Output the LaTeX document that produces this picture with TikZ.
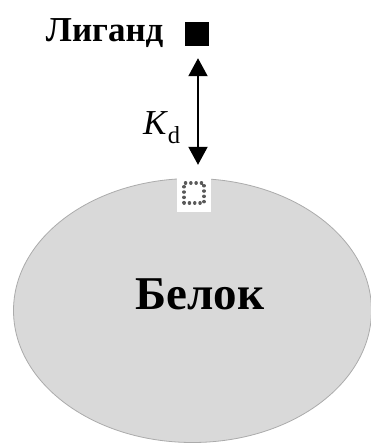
\documentclass[tikz,border=0pt]{standalone}
\usepackage{fontspec}
\setmainfont{Liberation Serif}
\usepackage{xcolor}
\usetikzlibrary{arrows.meta,shapes.geometric}
\definecolor{proteingray}{HTML}{D9D9D9}
\definecolor{rimgray}{HTML}{ABABAB}

\begin{document}
\begin{tikzpicture}[x=1pt,y=1pt]
            \useasboundingbox (0,0) rectangle (371,-445);

            % protein body
            \node[ellipse,fill=proteingray,draw=rimgray,line width=0.8pt,
                  minimum width=358pt,minimum height=264pt,inner sep=0pt] (protein) at (192.5,-310.5) {};
            \node[font=\bfseries\fontsize{47}{50}\selectfont] (belok) at (200,-294) {Белок};

            % binding site
            \begin{scope}[every node/.style={rectangle,inner sep=0pt}]
                \node[fill=white,minimum size=34pt] (site) at (194,-195) {};
                \node[draw=black!65,line width=3.2pt,line cap=round,dash pattern=on 0.3pt off 5pt,
                      minimum size=20pt] (pocket) at (194,-193) {};
                \node[fill=black,minimum size=24pt] (L) at (196.5,-34) {};
            \end{scope}

            \node[font=\bfseries\fontsize{35}{37}\selectfont,anchor=east] (ligand) at (167,-33) {Лиганд};

            % equilibrium arrow
            \begin{scope}[>={Triangle[width=19pt,length=18pt]},
                          every edge/.style={draw=black,line width=2pt}]
                \path [<->,shorten <=12pt,shorten >=13pt] ([xshift=1.5pt]L.south) edge
                    node[pos=0.62,left=13pt,font=\fontsize{35}{37}\selectfont] (kd) {\textit{K}\textsubscript{d}}
                    ([xshift=1.5pt]L.south |- site.north);
            \end{scope}
\end{tikzpicture}
\end{document}
